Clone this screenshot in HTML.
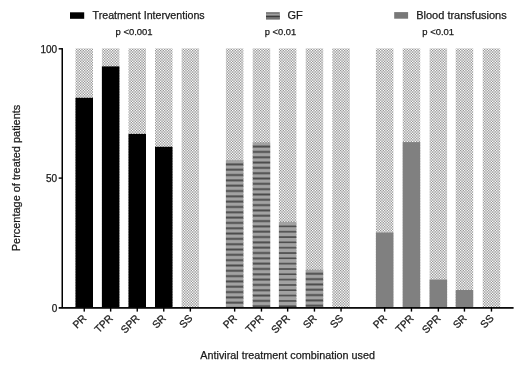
<!DOCTYPE html>
<html><head><meta charset="utf-8"><style>
html,body{margin:0;padding:0;background:#fff;}
body{width:520px;height:384px;overflow:hidden;position:relative;font-family:"Liberation Sans",sans-serif;}
svg{position:absolute;left:0;top:0;filter:grayscale(1);}
text{font-family:"Liberation Sans",sans-serif;fill:#1a1a1a;stroke:#1a1a1a;stroke-width:0.25px;}
</style></head><body>
<svg width="520" height="384" viewBox="0 0 520 384">
<defs>
<pattern id="chk" width="8" height="8" patternUnits="userSpaceOnUse"><rect x="0" y="0" width="1" height="1" fill="#b9b9b9"/><rect x="1" y="0" width="1" height="1" fill="#cfcfcf"/><rect x="2" y="0" width="1" height="1" fill="#cfcfcf"/><rect x="3" y="0" width="1" height="1" fill="#b9b9b9"/><rect x="4" y="0" width="1" height="1" fill="#d9d9d9"/><rect x="5" y="0" width="1" height="1" fill="#c3c3c3"/><rect x="6" y="0" width="1" height="1" fill="#c3c3c3"/><rect x="7" y="0" width="1" height="1" fill="#d9d9d9"/><rect x="0" y="1" width="1" height="1" fill="#fbfbfb"/><rect x="1" y="1" width="1" height="1" fill="#b9b9b9"/><rect x="2" y="1" width="1" height="1" fill="#b9b9b9"/><rect x="3" y="1" width="1" height="1" fill="#fbfbfb"/><rect x="4" y="1" width="1" height="1" fill="#979797"/><rect x="5" y="1" width="1" height="1" fill="#d9d9d9"/><rect x="6" y="1" width="1" height="1" fill="#d9d9d9"/><rect x="7" y="1" width="1" height="1" fill="#979797"/><rect x="0" y="2" width="1" height="1" fill="#979797"/><rect x="1" y="2" width="1" height="1" fill="#d9d9d9"/><rect x="2" y="2" width="1" height="1" fill="#d9d9d9"/><rect x="3" y="2" width="1" height="1" fill="#979797"/><rect x="4" y="2" width="1" height="1" fill="#fbfbfb"/><rect x="5" y="2" width="1" height="1" fill="#b9b9b9"/><rect x="6" y="2" width="1" height="1" fill="#b9b9b9"/><rect x="7" y="2" width="1" height="1" fill="#fbfbfb"/><rect x="0" y="3" width="1" height="1" fill="#d9d9d9"/><rect x="1" y="3" width="1" height="1" fill="#c3c3c3"/><rect x="2" y="3" width="1" height="1" fill="#c3c3c3"/><rect x="3" y="3" width="1" height="1" fill="#d9d9d9"/><rect x="4" y="3" width="1" height="1" fill="#b9b9b9"/><rect x="5" y="3" width="1" height="1" fill="#cfcfcf"/><rect x="6" y="3" width="1" height="1" fill="#cfcfcf"/><rect x="7" y="3" width="1" height="1" fill="#b9b9b9"/><rect x="0" y="4" width="1" height="1" fill="#d9d9d9"/><rect x="1" y="4" width="1" height="1" fill="#c3c3c3"/><rect x="2" y="4" width="1" height="1" fill="#c3c3c3"/><rect x="3" y="4" width="1" height="1" fill="#d9d9d9"/><rect x="4" y="4" width="1" height="1" fill="#b9b9b9"/><rect x="5" y="4" width="1" height="1" fill="#cfcfcf"/><rect x="6" y="4" width="1" height="1" fill="#cfcfcf"/><rect x="7" y="4" width="1" height="1" fill="#b9b9b9"/><rect x="0" y="5" width="1" height="1" fill="#979797"/><rect x="1" y="5" width="1" height="1" fill="#d9d9d9"/><rect x="2" y="5" width="1" height="1" fill="#d9d9d9"/><rect x="3" y="5" width="1" height="1" fill="#979797"/><rect x="4" y="5" width="1" height="1" fill="#fbfbfb"/><rect x="5" y="5" width="1" height="1" fill="#b9b9b9"/><rect x="6" y="5" width="1" height="1" fill="#b9b9b9"/><rect x="7" y="5" width="1" height="1" fill="#fbfbfb"/><rect x="0" y="6" width="1" height="1" fill="#fbfbfb"/><rect x="1" y="6" width="1" height="1" fill="#b9b9b9"/><rect x="2" y="6" width="1" height="1" fill="#b9b9b9"/><rect x="3" y="6" width="1" height="1" fill="#fbfbfb"/><rect x="4" y="6" width="1" height="1" fill="#979797"/><rect x="5" y="6" width="1" height="1" fill="#d9d9d9"/><rect x="6" y="6" width="1" height="1" fill="#d9d9d9"/><rect x="7" y="6" width="1" height="1" fill="#979797"/><rect x="0" y="7" width="1" height="1" fill="#b9b9b9"/><rect x="1" y="7" width="1" height="1" fill="#cfcfcf"/><rect x="2" y="7" width="1" height="1" fill="#cfcfcf"/><rect x="3" y="7" width="1" height="1" fill="#b9b9b9"/><rect x="4" y="7" width="1" height="1" fill="#d9d9d9"/><rect x="5" y="7" width="1" height="1" fill="#c3c3c3"/><rect x="6" y="7" width="1" height="1" fill="#c3c3c3"/><rect x="7" y="7" width="1" height="1" fill="#d9d9d9"/></pattern>
<pattern id="stripe" width="20" height="5.4" patternUnits="userSpaceOnUse">
<rect width="20" height="5.4" fill="#9a9a9a"/><rect y="3.6" width="20" height="1.8" fill="#454545"/>
</pattern>
</defs>

<rect x="75.5" y="48.4" width="17.5" height="259.0" fill="url(#chk)"/>
<rect x="75.5" y="97.8" width="17.5" height="209.59999999999997" fill="#000"/>
<rect x="101.9" y="48.4" width="17.5" height="259.0" fill="url(#chk)"/>
<rect x="101.9" y="66.4" width="17.5" height="240.99999999999997" fill="#000"/>
<rect x="128.5" y="48.4" width="17.5" height="259.0" fill="url(#chk)"/>
<rect x="128.5" y="133.9" width="17.5" height="173.49999999999997" fill="#000"/>
<rect x="155.0" y="48.4" width="17.5" height="259.0" fill="url(#chk)"/>
<rect x="155.0" y="146.8" width="17.5" height="160.59999999999997" fill="#000"/>
<rect x="181.6" y="48.4" width="17.5" height="259.0" fill="url(#chk)"/>
<rect x="225.9" y="48.4" width="17.5" height="259.0" fill="url(#chk)"/>
<defs><pattern id="st0" x="0" y="160.4" width="20" height="5.32" patternUnits="userSpaceOnUse"><rect width="20" height="5.32" fill="#a2a2a2"/><rect y="3.05" width="20" height="1.9" fill="#4a4a4a"/></pattern></defs>
<rect x="225.9" y="160.4" width="17.5" height="146.99999999999997" fill="url(#st0)"/>
<rect x="252.7" y="48.4" width="17.5" height="259.0" fill="url(#chk)"/>
<defs><pattern id="st1" x="0" y="142.6" width="20" height="5.32" patternUnits="userSpaceOnUse"><rect width="20" height="5.32" fill="#a2a2a2"/><rect y="3.05" width="20" height="1.9" fill="#4a4a4a"/></pattern></defs>
<rect x="252.7" y="142.6" width="17.5" height="164.79999999999998" fill="url(#st1)"/>
<rect x="278.9" y="48.4" width="17.5" height="259.0" fill="url(#chk)"/>
<defs><pattern id="st2" x="0" y="221.9" width="20" height="5.32" patternUnits="userSpaceOnUse"><rect width="20" height="5.32" fill="#a2a2a2"/><rect y="3.75" width="20" height="1.9" fill="#4a4a4a"/></pattern></defs>
<rect x="278.9" y="221.9" width="17.5" height="85.49999999999997" fill="url(#st2)"/>
<rect x="305.7" y="48.4" width="17.5" height="259.0" fill="url(#chk)"/>
<defs><pattern id="st3" x="0" y="269.8" width="20" height="5.32" patternUnits="userSpaceOnUse"><rect width="20" height="5.32" fill="#a2a2a2"/><rect y="3.05" width="20" height="1.9" fill="#4a4a4a"/></pattern></defs>
<rect x="305.7" y="269.8" width="17.5" height="37.599999999999966" fill="url(#st3)"/>
<rect x="332.3" y="48.4" width="17.5" height="259.0" fill="url(#chk)"/>
<rect x="375.9" y="48.4" width="17.5" height="259.0" fill="url(#chk)"/>
<rect x="375.9" y="232.5" width="17.5" height="74.89999999999998" fill="#808080"/>
<rect x="402.7" y="48.4" width="17.5" height="259.0" fill="url(#chk)"/>
<rect x="402.7" y="142.1" width="17.5" height="165.29999999999998" fill="#808080"/>
<rect x="429.6" y="48.4" width="17.5" height="259.0" fill="url(#chk)"/>
<rect x="429.6" y="279.6" width="17.5" height="27.799999999999955" fill="#808080"/>
<rect x="455.7" y="48.4" width="17.5" height="259.0" fill="url(#chk)"/>
<rect x="455.7" y="290.0" width="17.5" height="17.399999999999977" fill="#808080"/>
<rect x="482.7" y="48.4" width="17.5" height="259.0" fill="url(#chk)"/>
<rect x="61.5" y="48.1" width="1.5" height="260.0" fill="#000"/>
<rect x="58.7" y="307.04999999999995" width="454.90000000000003" height="1.7" fill="#000"/>
<rect x="58.7" y="48.099999999999994" width="3.5" height="1.4" fill="#000"/>
<rect x="58.7" y="177.39999999999998" width="3.5" height="1.4" fill="#000"/>
<text x="57.2" y="52.6" font-size="10" text-anchor="end">100</text>
<text x="57.2" y="182.09999999999997" font-size="10" text-anchor="end">50</text>
<text x="57.2" y="311.59999999999997" font-size="10" text-anchor="end">0</text>
<rect x="83.55" y="307.4" width="1.4" height="4.2" fill="#000"/>
<text transform="translate(87.15,318.9) rotate(-45)" font-size="10.4" text-anchor="end">PR</text>
<rect x="109.95" y="307.4" width="1.4" height="4.2" fill="#000"/>
<text transform="translate(113.55000000000001,318.9) rotate(-45)" font-size="10.4" text-anchor="end">TPR</text>
<rect x="136.55" y="307.4" width="1.4" height="4.2" fill="#000"/>
<text transform="translate(140.15,318.9) rotate(-45)" font-size="10.4" text-anchor="end">SPR</text>
<rect x="163.05" y="307.4" width="1.4" height="4.2" fill="#000"/>
<text transform="translate(166.65,318.9) rotate(-45)" font-size="10.4" text-anchor="end">SR</text>
<rect x="189.65" y="307.4" width="1.4" height="4.2" fill="#000"/>
<text transform="translate(193.25,318.9) rotate(-45)" font-size="10.4" text-anchor="end">SS</text>
<rect x="233.95000000000002" y="307.4" width="1.4" height="4.2" fill="#000"/>
<text transform="translate(237.55,318.9) rotate(-45)" font-size="10.4" text-anchor="end">PR</text>
<rect x="260.75" y="307.4" width="1.4" height="4.2" fill="#000"/>
<text transform="translate(264.34999999999997,318.9) rotate(-45)" font-size="10.4" text-anchor="end">TPR</text>
<rect x="286.95" y="307.4" width="1.4" height="4.2" fill="#000"/>
<text transform="translate(290.54999999999995,318.9) rotate(-45)" font-size="10.4" text-anchor="end">SPR</text>
<rect x="313.75" y="307.4" width="1.4" height="4.2" fill="#000"/>
<text transform="translate(317.34999999999997,318.9) rotate(-45)" font-size="10.4" text-anchor="end">SR</text>
<rect x="340.35" y="307.4" width="1.4" height="4.2" fill="#000"/>
<text transform="translate(343.95,318.9) rotate(-45)" font-size="10.4" text-anchor="end">SS</text>
<rect x="383.95" y="307.4" width="1.4" height="4.2" fill="#000"/>
<text transform="translate(387.54999999999995,318.9) rotate(-45)" font-size="10.4" text-anchor="end">PR</text>
<rect x="410.75" y="307.4" width="1.4" height="4.2" fill="#000"/>
<text transform="translate(414.34999999999997,318.9) rotate(-45)" font-size="10.4" text-anchor="end">TPR</text>
<rect x="437.65000000000003" y="307.4" width="1.4" height="4.2" fill="#000"/>
<text transform="translate(441.25,318.9) rotate(-45)" font-size="10.4" text-anchor="end">SPR</text>
<rect x="463.75" y="307.4" width="1.4" height="4.2" fill="#000"/>
<text transform="translate(467.34999999999997,318.9) rotate(-45)" font-size="10.4" text-anchor="end">SR</text>
<rect x="490.75" y="307.4" width="1.4" height="4.2" fill="#000"/>
<text transform="translate(494.34999999999997,318.9) rotate(-45)" font-size="10.4" text-anchor="end">SS</text>
<rect x="70" y="12.3" width="14.2" height="6.5" fill="#000"/>
<text x="92.6" y="19.3" font-size="11" textLength="112.1" lengthAdjust="spacingAndGlyphs">Treatment Interventions</text>
<text x="115.5" y="34.5" font-size="9.2" textLength="37.1" lengthAdjust="spacingAndGlyphs">p &lt;0.001</text>
<rect x="266" y="12.1" width="13.8" height="7.3" fill="#7c7c7c"/>
<rect x="266" y="14.0" width="13.8" height="1.7" fill="#a0a0a0"/>
<rect x="266" y="15.7" width="13.8" height="1.6" fill="#3a3a3a"/>
<rect x="266" y="17.3" width="13.8" height="2.1" fill="#727272"/>
<text x="287.4" y="19.3" font-size="11">GF</text>
<text x="264.8" y="34.8" font-size="9.2" textLength="31.3" lengthAdjust="spacingAndGlyphs">p &lt;0.01</text>
<rect x="394.2" y="12.1" width="13.9" height="6.6" fill="#787878"/>
<text x="416.2" y="19.1" font-size="11">Blood transfusions</text>
<text x="422.3" y="34.8" font-size="9.2" textLength="31.8" lengthAdjust="spacingAndGlyphs">p &lt;0.01</text>
<text transform="translate(19.8,251.2) rotate(-90)" font-size="11" textLength="146.5" lengthAdjust="spacingAndGlyphs">Percentage of treated patients</text>
<text x="200.3" y="359" font-size="11" textLength="174.7" lengthAdjust="spacingAndGlyphs">Antiviral treatment combination used</text>
</svg></body></html>
